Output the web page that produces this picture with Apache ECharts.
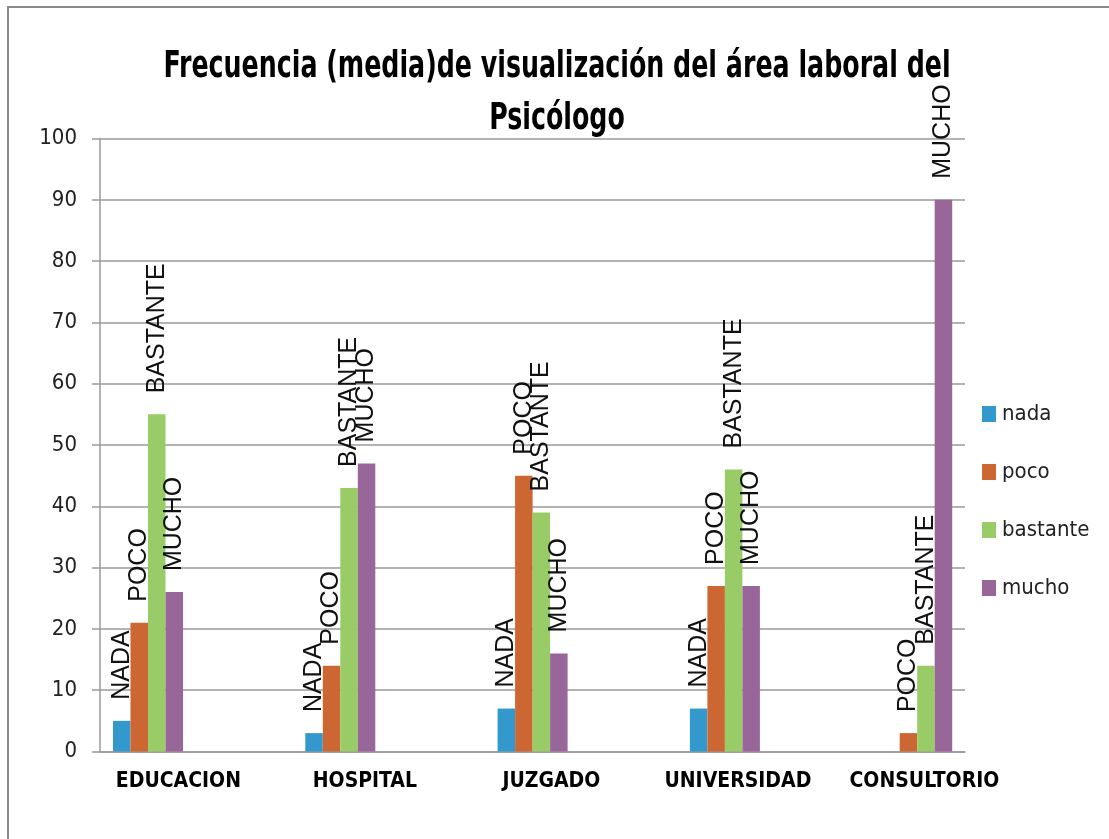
<!DOCTYPE html>
<html>
<head>
<meta charset="utf-8">
<script src="https://cdn.jsdelivr.net/npm/echarts@6/dist/echarts.min.js"></script>
<style>
html,body{margin:0;padding:0;background:#fff;}
#chart{width:1109px;height:839px;}
</style>
</head>
<body>
<div id="chart"></div>
<script>
const titleLines = ['Frecuencia (media)de visualización del área laboral del', 'Psicólogo'];
const categories = ['EDUCACION', 'HOSPITAL', 'JUZGADO', 'UNIVERSIDAD', 'CONSULTORIO'];
const seriesNames = ['nada', 'poco', 'bastante', 'mucho'];
const labelNames = ['NADA', 'POCO', 'BASTANTE', 'MUCHO'];
const nada = [5, 3, 7, 7, 0];
const poco = [21, 14, 45, 27, 3];
const bastante = [55, 43, 39, 46, 14];
const mucho = [26, 47, 16, 27, 90];
const yMin = 0, yMax = 100, yInterval = 10;

const colors = ['#3399CC', '#CC6633', '#99CC66', '#996699'];
const narrow = "'Liberation Sans Narrow', 'Arial Narrow', 'DejaVu Sans Condensed', sans-serif";
const seriesValues = [nada, poco, bastante, mucho];

const chart = echarts.init(document.getElementById('chart'), null, {renderer: 'canvas'});

const gridTop = 138.5, gridBottom = 87.5;

const option = {
  animation: false,
  backgroundColor: '#ffffff',
  graphic: [
    {
      type: 'rect', silent: true, z: -1,
      shape: {x: 8, y: 7, width: 1110, height: 840},
      style: {fill: 'none', stroke: '#8a8a8a', lineWidth: 2}
    },
    {
      type: 'text', silent: true,
      x: 557, y: 41,
      scaleX: 0.74, scaleY: 1,
      style: {
        text: titleLines.join('\n'),
        x: 0, y: 0,
        align: 'center', verticalAlign: 'top',
        fontFamily: narrow, fontWeight: 'bold', fontSize: 38, lineHeight: 52,
        fill: '#000'
      }
    }
  ],
  legend: {
    orient: 'vertical',
    left: 977,
    top: 396,
    itemWidth: 14,
    itemHeight: 16,
    itemGap: 32,
    icon: 'rect',
    data: seriesNames,
    textStyle: {fontFamily: narrow, fontSize: 22, lineHeight: 26, color: '#222', padding: [0, 0, 0, 1]}
  },
  grid: [
    {left: 100, right: 144, top: gridTop, bottom: gridBottom},
    {left: 51.85, right: 95.65, top: gridTop, bottom: gridBottom},
    {left: 85.15, right: 91.35, top: gridTop, bottom: gridBottom}
  ],
  xAxis: [
    {type: 'category', gridIndex: 0, data: categories,
      axisLine: {show: true, lineStyle: {color: '#9a9a9a', width: 1.5}},
      axisTick: {show: false}, axisLabel: {show: false}, splitLine: {show: false}},
    {type: 'category', gridIndex: 1, data: categories,
      axisLine: {show: false}, axisTick: {show: false}, axisLabel: {show: false}},
    {type: 'category', gridIndex: 2, data: categories,
      axisLine: {show: false}, axisTick: {show: false},
      axisLabel: {show: true, interval: 0, margin: 20, fontFamily: narrow, fontWeight: 'bold', fontSize: 21, color: '#000'}}
  ],
  yAxis: [
    {type: 'value', gridIndex: 0, min: yMin, max: yMax, interval: yInterval,
      axisLine: {show: true, lineStyle: {color: '#9a9a9a', width: 1.5}},
      axisTick: {show: true, length: 8, lineStyle: {color: '#9a9a9a', width: 1.5}},
      axisLabel: {margin: 23, fontFamily: narrow, fontSize: 22, color: '#222'},
      splitLine: {show: true, lineStyle: {color: '#9a9a9a', width: 1.5}}},
    {type: 'value', gridIndex: 1, min: yMin, max: yMax, interval: yInterval, show: false, splitLine: {show: false}},
    {type: 'value', gridIndex: 2, min: yMin, max: yMax, interval: yInterval, show: false, splitLine: {show: false}}
  ],
  series: seriesNames.map((name, i) => ({
    name: name,
    type: 'bar',
    xAxisIndex: 1,
    yAxisIndex: 1,
    data: seriesValues[i],
    barWidth: 17.5,
    barGap: '0%',
    itemStyle: {color: colors[i]},
    label: {
      show: true,
      position: 'top',
      distance: 21,
      rotate: 90,
      align: 'left',
      verticalAlign: 'middle',
      fontFamily: "'Liberation Sans', Arial, sans-serif",
      fontSize: 25,
      color: '#111',
      formatter: p => (p.value > 0 ? labelNames[i] : '')
    }
  }))
};
chart.setOption(option);
</script>
</body>
</html>
